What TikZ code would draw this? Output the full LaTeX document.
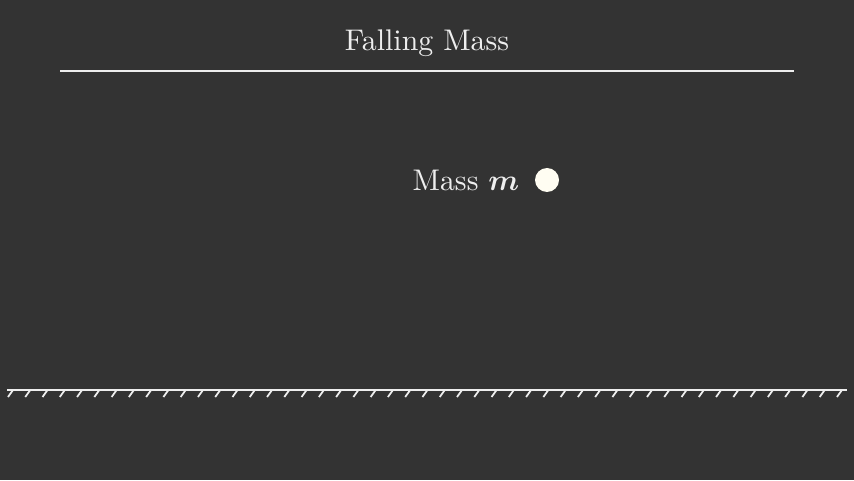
\documentclass[tikz,border=0pt]{standalone}
\usepackage{tikz}
\usepackage{graphicx}
\usepackage{amsmath, amssymb, bm}
\usetikzlibrary{positioning, calc}
\definecolor{Board}{HTML}{333333}
\definecolor{Chalk}{HTML}{EEEEEE}
\definecolor{Ball}{HTML}{FFFDF2}
\newcommand{\bigtxt}[1]{\scalebox{1.7}{#1}}
\tikzset{
    titlenode/.style={text=Chalk, inner sep=0pt},
    labelnode/.style={text=Chalk, inner sep=0pt},
    ballnode/.style={circle, fill=Ball, inner sep=0pt, minimum size=0.48cm},
    rule/.style={draw=Chalk, line width=1.3pt},
    ground/.style={draw=Chalk, line width=1.1pt},
    hatch/.style={draw=Chalk, line width=1pt},
}

\begin{document}
\begin{tikzpicture}[x=0.02cm, y=0.02cm]
                % Sfondo
                \fill[Board] (0,0) rectangle (854,480);
                \useasboundingbox (0,0) rectangle (854,480);

                % --- TITOLO ---
                \node[titlenode, anchor=base] (title) at (427,429) {\bigtxt{Falling Mass}};
                \draw[rule] (60,409) -- (794,409);

                % --- MASSA ---
                \node[ballnode] (ball) at (547,300) {};
                \node[labelnode, anchor=east, left=0.3cm of ball] (masslabel) {\bigtxt{Mass $\boldsymbol{m}$}};

                % --- SUOLO ---
                \draw[ground] (7,90) -- (847,90);
                \foreach \i in {0,...,48}
                    \draw[hatch] ({13+\i*17.27},90) -- ++(-5,-7);

            \end{tikzpicture}
\end{document}
